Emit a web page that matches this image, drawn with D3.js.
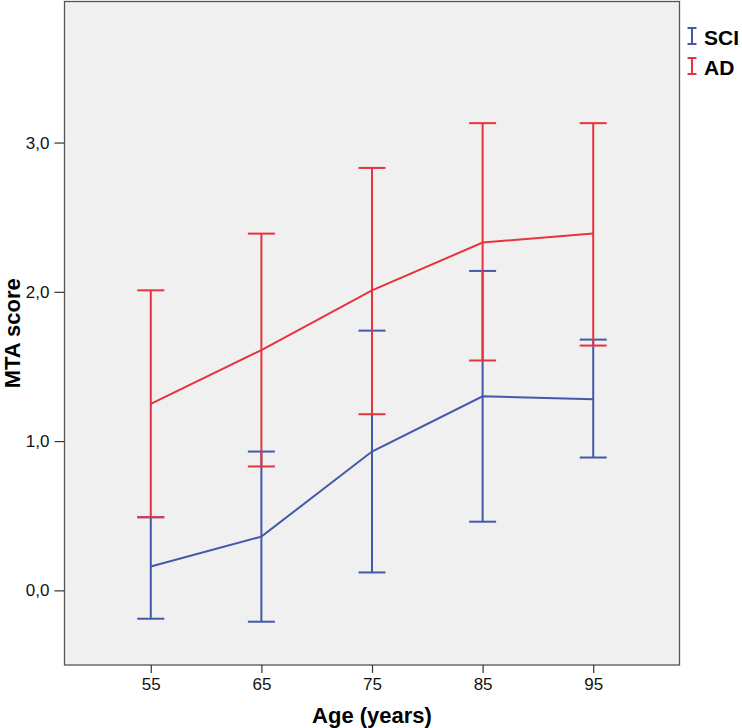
<!DOCTYPE html>
<html>
<head>
<meta charset="utf-8">
<script src="https://cdn.jsdelivr.net/npm/d3@7"></script>
<style>
  body { margin: 0; background: #fff; }
  svg { display: block; }
</style>
</head>
<body>
<div class="canvas"></div>
<script>
// DATA ---------------------------------------------------------------------------
const ages = [55, 65, 75, 85, 95];
const yTicks = [0, 1, 2, 3];

// SCI group: mean and error bar ends
const sciMean = [0.16, 0.36, 0.93, 1.30, 1.28];
const sciLow  = [-0.19, -0.21, 0.12, 0.46, 0.89];
const sciHigh = [0.49, 0.93, 1.74, 2.14, 1.68];

// AD group
const adMean = [1.25, 1.61, 2.01, 2.33, 2.39];
const adLow  = [0.49, 0.83, 1.18, 1.54, 1.64];
const adHigh = [2.01, 2.39, 2.83, 3.13, 3.13];

const groups = [
    { name: 'SCI', color: '#4259a9', mean: sciMean, low: sciLow, high: sciHigh },
    { name: 'AD',  color: '#e5343f', mean: adMean,  low: adLow,  high: adHigh }
];

// SET UP GRAPH ------------------------------------------------------------------
const width = 742, height = 728;
const svg = d3.select('.canvas')
    .append('svg')
        .attr('width', width)
        .attr('height', height);

const plot = { left: 64.5, right: 679.5, top: 1.5, bottom: 665 };
const fontFamily = '"Liberation Sans", Arial, sans-serif';

const x = d3.scalePoint()
    .domain(ages)
    .range([plot.left, plot.right])
    .padding(0.78);

const y = d3.scaleLinear()
    .domain([-0.5, 3.945])
    .range([plot.bottom, plot.top]);

// plot background
svg.append('rect')
    .attr('x', plot.left)
    .attr('y', plot.top)
    .attr('width', plot.right - plot.left)
    .attr('height', plot.bottom - plot.top)
    .attr('fill', '#f0f0f0')
    .attr('stroke', '#555')
    .attr('stroke-width', 1.3);

// axes
const xAxis = d3.axisBottom(x).tickSize(8).tickPadding(5);
const yAxis = d3.axisLeft(y)
    .tickValues(yTicks)
    .tickSize(10)
    .tickPadding(5)
    .tickFormat(d => d3.format('.1f')(d).replace('.', ','));

const xAxisGroup = svg.append('g')
    .attr('transform', `translate(0, ${plot.bottom})`)
    .call(xAxis);
const yAxisGroup = svg.append('g')
    .attr('transform', `translate(${plot.left}, 0)`)
    .call(yAxis);

[xAxisGroup, yAxisGroup].forEach(g => {
    g.select('.domain').remove();
    g.selectAll('line').attr('stroke', '#333').attr('stroke-width', 1.2);
    g.selectAll('text')
        .attr('fill', '#111')
        .style('font', `17px ${fontFamily}`);
});

// axis titles
svg.append('text')
    .attr('text-anchor', 'middle')
    .attr('x', (plot.left + plot.right) / 2)
    .attr('y', 723)
    .text('Age (years)')
    .style('font', `bold 22px ${fontFamily}`)
    .attr('fill', '#000');

svg.append('text')
    .attr('text-anchor', 'middle')
    .attr('transform', `translate(20, ${(plot.top + plot.bottom) / 2}) rotate(-90)`)
    .text('MTA score')
    .style('font', `bold 22px ${fontFamily}`)
    .attr('fill', '#000');

// SERIES ------------------------------------------------------------------------
const capHalf = 13.5;
const line = d3.line()
    .x(d => x(d.age))
    .y(d => y(d.value));

groups.forEach(grp => {
    const rows = ages.map((age, i) => ({
        age, value: grp.mean[i], low: grp.low[i], high: grp.high[i]
    }));
    const g = svg.append('g')
        .attr('stroke', grp.color)
        .attr('stroke-width', 2)
        .attr('fill', 'none');

    // error bars
    const bars = g.selectAll('g.bar').data(rows).enter().append('g');
    bars.append('line')
        .attr('x1', d => x(d.age)).attr('x2', d => x(d.age))
        .attr('y1', d => y(d.low)).attr('y2', d => y(d.high));
    bars.append('line')
        .attr('x1', d => x(d.age) - capHalf).attr('x2', d => x(d.age) + capHalf)
        .attr('y1', d => y(d.low)).attr('y2', d => y(d.low));
    bars.append('line')
        .attr('x1', d => x(d.age) - capHalf).attr('x2', d => x(d.age) + capHalf)
        .attr('y1', d => y(d.high)).attr('y2', d => y(d.high));

    // mean line
    g.append('path').attr('d', line(rows));
});

// LEGEND ------------------------------------------------------------------------
const legend = svg.append('g');
groups.forEach((grp, i) => {
    const base = 45 + i * 30;
    const lx = 692;
    const item = legend.append('g')
        .attr('stroke', grp.color)
        .attr('stroke-width', 2);
    item.append('line').attr('x1', lx).attr('x2', lx).attr('y1', base - 17).attr('y2', base - 1);
    item.append('line').attr('x1', lx - 4.5).attr('x2', lx + 4.5).attr('y1', base - 17).attr('y2', base - 17);
    item.append('line').attr('x1', lx - 4.5).attr('x2', lx + 4.5).attr('y1', base - 1).attr('y2', base - 1);
    legend.append('text')
        .attr('x', 704)
        .attr('y', base)
        .text(grp.name)
        .style('font', `bold 21px ${fontFamily}`)
        .attr('fill', '#000');
});
</script>
</body>
</html>
